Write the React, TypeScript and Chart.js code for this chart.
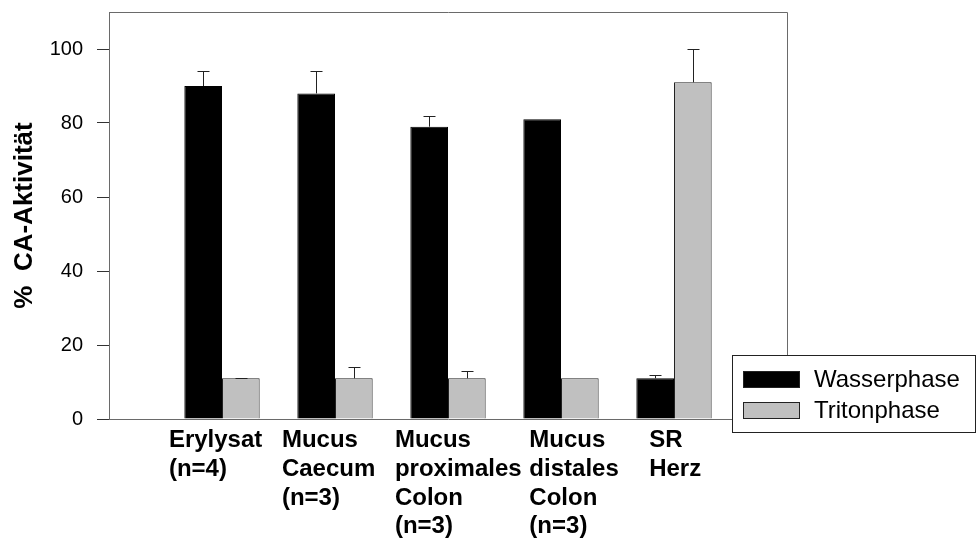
import React, { useEffect, useRef } from 'react';
import { Chart, registerables } from 'chart.js';

Chart.register(...registerables);

// ---------- data ----------
const CATEGORIES: string[][] = [
  ['Erylysat', '(n=4)'],
  ['Mucus', 'Caecum', '(n=3)'],
  ['Mucus', 'proximales', 'Colon', '(n=3)'],
  ['Mucus', 'distales', 'Colon', '(n=3)'],
  ['SR', 'Herz'],
];
const SERIES_LABELS = ['Wasserphase', 'Tritonphase'];
const WASSERPHASE = [90, 88, 79, 81, 11];
const WASSERPHASE_ERR = [4, 6, 3, 0, 1];
const TRITONPHASE = [11, 11, 11, 11, 91];
const TRITONPHASE_ERR = [0.2, 3, 2, 0, 9];
const Y_TICKS = [0, 20, 40, 60, 80, 100];
const Y_MAX = 110;
const X_MAX = 6;
const Y_TITLE = '%  CA-Aktivität';

// ---------- layout / style ----------
const LABEL_SHIFT = [-0.47, -0.47, -0.47, -0.28, -0.22];
const FONT = 'Arial, "Liberation Sans", Helvetica, sans-serif';
const AXIS_COLOR = '#6a6a6a';
const BAR_COLORS = ['#000000', '#c0c0c0'];

const errorBars = {
  id: 'errorBars',
  afterDatasetsDraw(chart: any) {
    const ctx = chart.ctx;
    const y = chart.scales.y;
    chart.data.datasets.forEach((ds: any, di: number) => {
      const meta = chart.getDatasetMeta(di);
      meta.data.forEach((el: any, i: number) => {
        const e = ds.errors[i];
        if (!e) return;
        const v = ds.data[i].y;
        const yTop = Math.round(y.getPixelForValue(v + e)) + 0.5;
        const yBar = y.getPixelForValue(v);
        const x = Math.round(el.x) + 0.5;
        ctx.save();
        ctx.strokeStyle = '#222';
        ctx.lineWidth = 1;
        ctx.beginPath();
        ctx.moveTo(x, yBar);
        ctx.lineTo(x, yTop);
        ctx.moveTo(x - 6, yTop);
        ctx.lineTo(x + 6, yTop);
        ctx.stroke();
        ctx.restore();
      });
    });
  },
};

const frame = {
  id: 'frame',
  afterDatasetsDraw(chart: any) {
    const { ctx, chartArea } = chart;
    ctx.save();
    ctx.strokeStyle = AXIS_COLOR;
    ctx.lineWidth = 1;
    ctx.beginPath();
    const l = Math.round(chartArea.left) + 0.5;
    const r = Math.round(chartArea.right) + 0.5;
    const t = Math.round(chartArea.top) + 0.5;
    const b = Math.round(chartArea.bottom) + 0.5;
    ctx.moveTo(l, t);
    ctx.lineTo(r, t);
    ctx.lineTo(r, b);
    ctx.stroke();
    ctx.restore();
  },
};

const boxLegend = {
  id: 'boxLegend',
  afterDraw(chart: any) {
    const { ctx, chartArea } = chart;
    const left = Math.round(chartArea.right) - 55;
    const top = Math.round(chartArea.bottom) - 64;
    const w = 244;
    const h = 78;
    ctx.save();
    ctx.fillStyle = '#fff';
    ctx.fillRect(left, top, w, h);
    ctx.strokeStyle = '#222';
    ctx.lineWidth = 1;
    ctx.strokeRect(left + 0.5, top + 0.5, w - 1, h - 1);
    chart.data.datasets.forEach((ds: any, i: number) => {
      const rowY = top + 16 + i * 31;
      ctx.fillStyle = ds.backgroundColor;
      ctx.fillRect(left + 11, rowY, 57, 17);
      ctx.strokeStyle = '#222';
      ctx.strokeRect(left + 11.5, rowY + 0.5, 56, 16);
      ctx.fillStyle = '#000';
      ctx.font = '24px ' + FONT;
      ctx.textBaseline = 'middle';
      ctx.textAlign = 'left';
      ctx.fillText(ds.label, left + 82, rowY + 9);
    });
    ctx.restore();
  },
};

export default function App() {
  const ref = useRef<HTMLCanvasElement>(null);
  useEffect(() => {
    document.body.style.margin = '0';
    const chart = new Chart(ref.current as HTMLCanvasElement, {
      type: 'bar',
      data: {
        datasets: [
          {
            label: SERIES_LABELS[0],
            data: WASSERPHASE.map((v, i) => ({ x: i + 1, y: v })),
            errors: WASSERPHASE_ERR,
            backgroundColor: BAR_COLORS[0],
            borderColor: '#000',
            borderWidth: 1,
          } as any,
          {
            label: SERIES_LABELS[1],
            data: TRITONPHASE.map((v, i) => ({ x: i + 1, y: v })),
            errors: TRITONPHASE_ERR,
            backgroundColor: BAR_COLORS[1],
            borderColor: '#222',
            borderWidth: 1,
          } as any,
        ],
      },
      options: {
        animation: false,
        responsive: false,
        devicePixelRatio: 1,
        layout: { padding: { top: 12, right: 189, left: 0, bottom: 0 } },
        plugins: { legend: { display: false }, tooltip: { enabled: false } },
        datasets: { bar: { categoryPercentage: 2 / 3, barPercentage: 1 } },
        scales: {
          x: {
            type: 'linear',
            min: 0,
            max: X_MAX,
            offset: false,
            grid: { display: false, drawTicks: false, offset: false },
            border: { display: true, color: AXIS_COLOR, width: 1 },
            afterBuildTicks: (s: any) => {
              s.ticks = LABEL_SHIFT.map((d, i) => ({ value: i + 1 + d }));
            },
            afterFit: (s: any) => {
              s.height = 124;
              s.paddingLeft = 0;
              s.paddingRight = 0;
            },
            ticks: {
              autoSkip: false,
              maxRotation: 0,
              minRotation: 0,
              align: 'start',
              padding: 7,
              color: '#000',
              font: { family: FONT, size: 24, weight: 'bold', lineHeight: 1.2 },
              callback: (_v: any, i: number) => CATEGORIES[i],
            },
          },
          y: {
            min: 0,
            max: Y_MAX,
            afterBuildTicks: (s: any) => {
              s.ticks = Y_TICKS.map((v) => ({ value: v }));
            },
            afterFit: (s: any) => {
              s.width = 109;
              s.paddingTop = 0;
              s.paddingBottom = 0;
            },
            grid: { drawOnChartArea: false, drawTicks: true, tickLength: 12, color: '#333' },
            border: { display: true, color: AXIS_COLOR, width: 1 },
            ticks: { padding: 14, color: '#000', font: { family: FONT, size: 20 } },
            title: {
              display: true,
              text: Y_TITLE,
              color: '#000',
              font: { family: FONT, size: 26, weight: 'bold' },
              padding: { top: 9, bottom: 0 },
            },
          },
        },
      } as any,
      plugins: [errorBars, frame, boxLegend],
    });
    return () => chart.destroy();
  }, []);
  return (
    <div style={{ position: 'absolute', left: 0, top: 0, width: 976, height: 543, background: '#fff' }}>
      <canvas ref={ref} width={976} height={543} style={{ display: 'block' }} />
    </div>
  );
}
